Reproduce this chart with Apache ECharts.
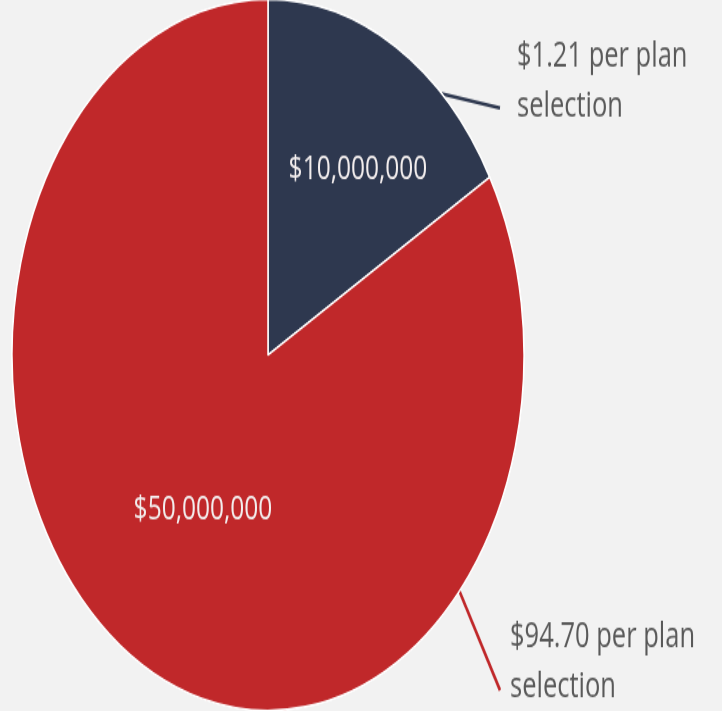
<!DOCTYPE html>
<html>
<head>
<meta charset="utf-8">
<script src="https://cdn.jsdelivr.net/npm/echarts@6/dist/echarts.min.js"></script>
<style>
  html, body { margin: 0; padding: 0; background: #f2f2f2; overflow: hidden; }
  #wrap { width: 722px; height: 711px; overflow: hidden; }
  #chart { width: 722px; height: 512px; transform-origin: 0 0; transform: scaleY(1.38867); }
</style>
</head>
<body>
<div id="wrap"><div id="chart"></div></div>
<script>
// ---- data ----
const categories = ['Plan A', 'Plan B'];
const amounts = [10000000, 50000000];
const valueLabels = ['$10,000,000', '$50,000,000'];
const perPlanLabels = ['$1.21 per plan\nselection', '$94.70 per plan\nselection'];

// ---- styling / layout ----
const colors = ['#2e384f', '#c0282a'];
const center = [268, 255.6];
const radius = 256;
const innerLabelPos = [[358, 122.4], [203, 367]];
const outerLabelPos = [[517, 59], [510, 477]];
const leaderAngle = [42.7, 131.6];   // degrees clockwise from top, where the leader meets the edge
const leaderEnd = [[500, 77.8], [500, 497]];

const chart = echarts.init(document.getElementById('chart'));
const baseData = categories.map((c, i) => ({
  name: c, value: amounts[i], itemStyle: { color: colors[i] }
}));

chart.setOption({
  backgroundColor: '#f2f2f2',
  animation: false,
  series: [
    {
      type: 'pie', z: 1, silent: true,
      center: center, radius: radius, startAngle: 90, clockwise: true,
      itemStyle: { borderColor: '#ffffff', borderWidth: 1.5 },
      data: baseData.map((d, i) => Object.assign({}, d, { label: { formatter: perPlanLabels[i] } })),
      label: {
        show: true, position: 'outside', color: '#595959', overflow: 'none', width: 260,
        fontFamily: 'Open Sans', fontSize: 25.5, lineHeight: 36, align: 'left'
      },
      labelLine: { show: true, length: 10, length2: 10, smooth: false, lineStyle: { width: 2.6 } },
      labelLayout: function (p) {
        const i = p.dataIndex;
        const a = leaderAngle[i] * Math.PI / 180;
        const sx = center[0] + radius * Math.sin(a);
        const sy = center[1] - radius * Math.cos(a);
        return {
          x: outerLabelPos[i][0], y: outerLabelPos[i][1],
          align: 'left', verticalAlign: 'middle',
          labelLinePoints: [[sx, sy], leaderEnd[i], leaderEnd[i]]
        };
      }
    },
    {
      type: 'pie', z: 2, silent: true,
      center: center, radius: radius, startAngle: 90, clockwise: true,
      itemStyle: { borderColor: '#ffffff', borderWidth: 1.5 },
      data: baseData.map((d, i) => Object.assign({}, d, { label: { formatter: valueLabels[i] } })),
      label: {
        show: true, position: 'inside', color: '#f3eeee',
        fontFamily: 'Open Sans', fontSize: 24.5
      },
      labelLine: { show: false },
      labelLayout: function (p) {
        const i = p.dataIndex;
        return { x: innerLabelPos[i][0], y: innerLabelPos[i][1], align: 'center', verticalAlign: 'middle' };
      }
    }
  ]
});
</script>
</body>
</html>
